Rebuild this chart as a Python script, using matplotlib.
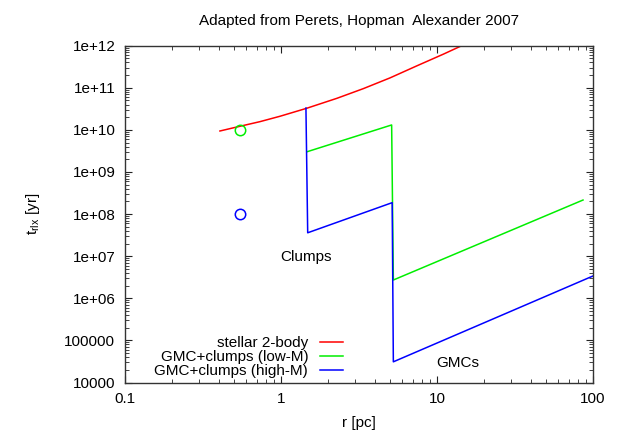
import matplotlib
matplotlib.use("Agg")
import matplotlib.pyplot as plt
from matplotlib.ticker import FixedLocator, NullFormatter, LogLocator

plt.rcParams['font.family'] = ['Liberation Sans', 'DejaVu Sans']

# ---- data ----
stellar_r = [0.406, 0.546, 0.733, 0.986, 1.46, 2.28, 3.37, 5.0, 7.41, 11.0, 14.4]
stellar_t = [9.42e9, 1.22e10, 1.57e10, 2.11e10, 3.26e10, 5.62e10, 9.55e10,
             1.72e11, 3.31e11, 6.31e11, 1.0e12]

lowM_r = [1.47, 5.12, 5.25, 86.3]
lowM_t = [3.03e9, 1.31e10, 2.72e6, 2.16e8]

highM_r = [1.445, 1.483, 5.16, 5.25, 100.0]
highM_t = [3.3e10, 3.6e7, 1.87e8, 3.1e4, 3.39e6]

pt_r = [0.546, 0.546]
pt_t = [1.0e10, 1.0e8]

ytick_vals = [1e4, 1e5, 1e6, 1e7, 1e8, 1e9, 1e10, 1e11, 1e12]
ytick_labels = ["10000", "100000", "1e+06", "1e+07", "1e+08", "1e+09",
                "1e+10", "1e+11", "1e+12"]
xtick_vals = [0.1, 1, 10, 100]
xtick_labels = ["0.1", "1", "10", "100"]

FS = 11

fig = plt.figure(figsize=(6.18, 4.32), dpi=100)
ax = fig.add_axes([125/618, 1-382.5/432, (593-125)/618, (382.5-45.7)/432])

ax.plot(stellar_r, stellar_t, color='#ff0000', lw=1.1, label='stellar 2-body')
ax.plot(lowM_r, lowM_t, color='#00ee00', lw=1.1, label='GMC+clumps (low-M)')
ax.plot(highM_r, highM_t, color='#0000ff', lw=1.1, label='GMC+clumps (high-M)')
ax.plot(pt_r[0], pt_t[0], 'o', mfc='none', mec='#00ee00', ms=7.5, mew=1.1)
ax.plot(pt_r[1], pt_t[1], 'o', mfc='none', mec='#0000ff', ms=7.5, mew=1.1)

ax.set_xscale('log')
ax.set_yscale('log')
ax.set_xlim(0.1, 100)
ax.set_ylim(1e4, 1e12)

ax.xaxis.set_major_locator(FixedLocator(xtick_vals))
ax.set_xticklabels(xtick_labels)
ax.yaxis.set_major_locator(FixedLocator(ytick_vals))
ax.set_yticklabels(ytick_labels)
ax.xaxis.set_minor_locator(LogLocator(base=10, subs=range(2, 10), numticks=20))
ax.yaxis.set_minor_locator(LogLocator(base=10, subs=range(2, 10), numticks=20))
ax.xaxis.set_minor_formatter(NullFormatter())
ax.yaxis.set_minor_formatter(NullFormatter())

ax.tick_params(which='both', direction='in', top=True, right=True,
               labelsize=FS, colors='#222222', labelcolor='black')
ax.tick_params(which='major', length=5, width=0.8, pad=7)
ax.tick_params(which='minor', length=3, width=0.6)
for s in ax.spines.values():
    s.set_linewidth(1.0)
    s.set_color('#333333')

ax.set_title('Adapted from Perets, Hopman  Alexander 2007', fontsize=FS, pad=15)
ax.set_xlabel('r [pc]', fontsize=FS, labelpad=7)
ax.set_ylabel(r't$_{\mathregular{rlx}}$ [yr]', fontsize=FS, labelpad=16)

ax.text(1.45, 9.6e6, 'Clumps', fontsize=FS, ha='center', va='center')
ax.text(13.6, 2.9e4, 'GMCs', fontsize=FS, ha='center', va='center')

leg = ax.legend(loc='lower right', bbox_to_anchor=(0.479, -0.005), frameon=False,
                fontsize=FS, markerfirst=False, handlelength=1.5,
                handletextpad=0.78, labelspacing=0.0, borderaxespad=0.0)
for t in leg.get_texts():
    t.set_ha('right')
leg._legend_box.align = 'right'

fig.savefig('out.png', dpi=100)
